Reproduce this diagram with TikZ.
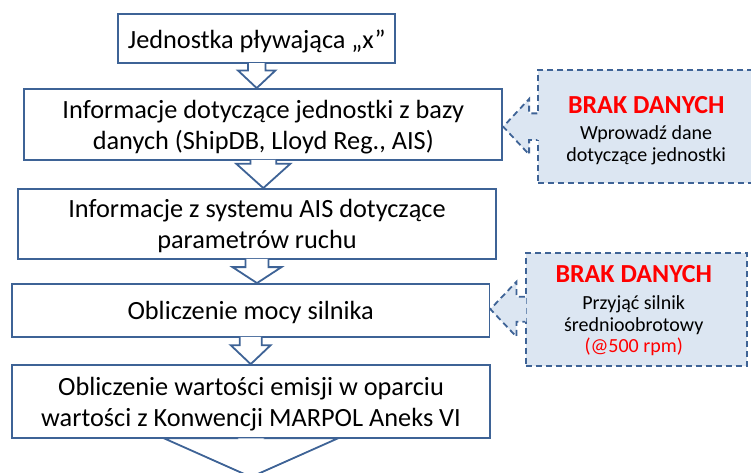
\documentclass[tikz,border=0pt]{standalone}
\usepackage{fontspec}
\setmainfont{Carlito}
\usetikzlibrary{calc}

\definecolor{boxblue}{RGB}{62,99,150}
\definecolor{notebg}{RGB}{220,230,242}
\definecolor{nored}{RGB}{255,0,0}

\tikzset{
  stepbox/.style={draw=boxblue, line width=1.8pt, fill=white, align=center,
    inner sep=0pt, text depth=0pt, font=\fontsize{26.3}{31}\selectfont},
  blockarrow/.style={draw=boxblue, line width=1.8pt, fill=white, line join=miter},
  notebox/.style={draw=boxblue, line width=1.8pt, dash pattern=on 6pt off 4pt,
    fill=notebg, minimum width=221pt, minimum height=113pt, inner sep=0pt},
  noteline/.style={draw=boxblue, line width=1.8pt, dash pattern=on 6pt off 4pt, line join=miter},
  notetext/.style={align=center, inner sep=0pt, font=\fontsize{20}{21.7}\selectfont}
}

% from, to, shaft half width, head half width, head length
\newcommand{\blockarrow}[5]{%
  \filldraw[blockarrow] let \p1=(#1.south), \p2=(#2) in
    (\x1-#3pt,\y1+1pt) -- (\x1-#3pt,\y2+#5pt) -- (\x1-#4pt,\y2+#5pt) -- (\x1,\y2)
    -- (\x1+#4pt,\y2+#5pt) -- (\x1+#3pt,\y2+#5pt) -- (\x1+#3pt,\y1+1pt);
}
% note, target, shaft half height, head half height, shaft length
\newcommand{\notearrow}[5]{%
  \fill[notebg] let \p1=(#1.west), \p2=(#2.east) in
    (\x1+1.5pt,\y1+#3pt) -- (\x1-#5pt,\y1+#3pt) -- (\x1-#5pt,\y1+#4pt) -- (\x2,\y1)
    -- (\x1-#5pt,\y1-#4pt) -- (\x1-#5pt,\y1-#3pt) -- (\x1+1.5pt,\y1-#3pt) -- cycle;
  \draw[noteline] let \p1=(#1.west), \p2=(#2.east) in
    (\x1,\y1+#3pt) -- (\x1-#5pt,\y1+#3pt) -- (\x1-#5pt,\y1+#4pt) -- (\x2,\y1)
    -- (\x1-#5pt,\y1-#4pt) -- (\x1-#5pt,\y1-#3pt) -- (\x1,\y1-#3pt);
}

\begin{document}
\begin{tikzpicture}[x=1pt,y=-1pt]
  \useasboundingbox (0,0) rectangle (751,473);

  \node[stepbox, minimum width=276.7pt, minimum height=49pt] (ship) at (256.7,38.8) {Jednostka pływająca „x”};
  \node[stepbox, minimum width=478pt, minimum height=71pt] (shipdb) at (263.3,124.5) {Informacje dotyczące jednostki z bazy\\danych (ShipDB, Lloyd Reg., AIS)};
  \node[stepbox, minimum width=478pt, minimum height=70pt] (ais) at (257,224) {Informacje z systemu AIS dotyczące\\parametrów ruchu};
  \node[stepbox, minimum width=477.5pt, minimum height=53pt] (power) at (250.7,310.5) {Obliczenie mocy silnika};
  \node[stepbox, minimum width=478pt, minimum height=73.3pt] (emis) at (251,401.7) {Obliczenie wartości emisji w oparciu\\wartości z Konwencji MARPOL Aneks VI};
  \coordinate (tail) at (250.5,477);

  \blockarrow{ship}{shipdb.north}{8.7}{18.7}{17.6}
  \blockarrow{shipdb}{ais.north}{12.85}{27}{24.3}
  \blockarrow{ais}{power.north}{11.5}{24.5}{16}
  \blockarrow{power}{emis.north}{11}{20}{19}
  \blockarrow{emis}{tail}{13.5}{87}{38.7}

  \node[notebox] (nodata1) at (648.8,126.7) {};
  \notearrow{nodata1}{shipdb}{13.3}{27.8}{8.3}
  \node[notetext] (nodata1txt) at ($(nodata1.center)+(-2.6,4)$)
    {{\bfseries\fontsize{26}{21.7}\selectfont\color{nored}BRAK DANYCH}\\[4.9pt]Wprowadź dane\\dotyczące jednostki};

  \node[notebox] (nodata2) at (636.2,309.2) {};
  \notearrow{nodata2}{power}{12.5}{27.5}{8.4}
  \node[notetext] (nodata2txt) at ($(nodata2.center)+(-2.5,1.8)$)
    {{\bfseries\fontsize{26}{21.7}\selectfont\color{nored}BRAK DANYCH}\\[4.9pt]Przyjąć silnik\\średnioobrotowy\\{\color{nored}(@500 rpm)}};
\end{tikzpicture}
\end{document}
